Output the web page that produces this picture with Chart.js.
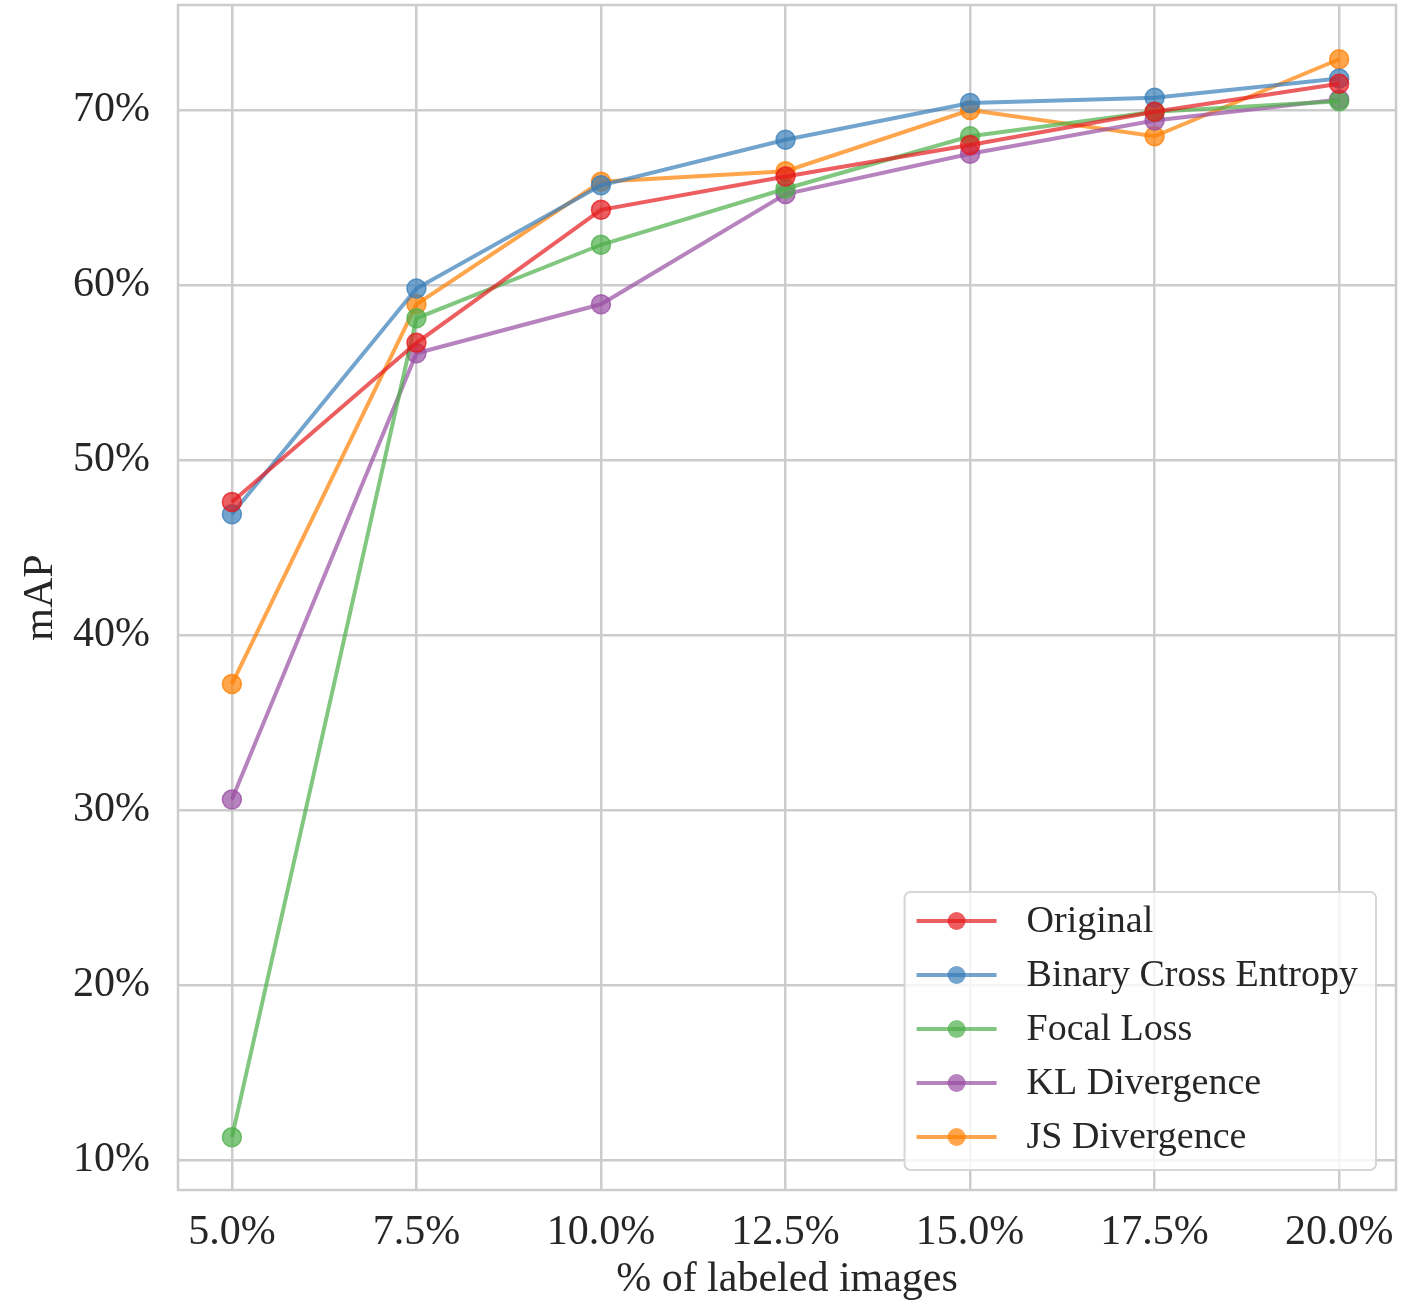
<!DOCTYPE html>
<html>
<head>
<meta charset="utf-8">
<script src="https://cdn.jsdelivr.net/npm/chart.js@4/dist/chart.umd.min.js"></script>
<style>
  html, body { margin: 0; padding: 0; background: #fff; }
  #wrap { width: 1419px; height: 1305px; }
</style>
</head>
<body>
<div id="wrap"><canvas id="myChart" width="1419" height="1305"></canvas></div>
<script>
// porcentaje de imagenes etiquetadas
const etiquetas = [5.0, 7.5, 10.0, 12.5, 15.0, 17.5, 20.0]
const ticksX = [5.0, 7.5, 10.0, 12.5, 15.0, 17.5, 20.0]
const ticksY = [10, 20, 30, 40, 50, 60, 70]

const original = [47.6, 56.7, 64.3, 66.2, 68.0, 69.9, 71.5]
const bce      = [46.9, 59.8, 65.7, 68.3, 70.4, 70.7, 71.8]
const focal    = [11.3, 58.1, 62.3, 65.5, 68.5, 69.9, 70.5]
const kl       = [30.6, 56.1, 58.9, 65.2, 67.5, 69.4, 70.6]
const js       = [37.2, 58.9, 65.9, 66.5, 70.0, 68.5, 72.9]

const nombres = ['Original', 'Binary Cross Entropy', 'Focal Loss', 'KL Divergence', 'JS Divergence']
const colores = ['228,26,28', '55,126,184', '77,175,74', '152,78,163', '255,127,0']

const fuente = "'Liberation Serif', 'Times New Roman', serif"
const texto = '#262626'
const rejilla = '#cccccc'

function serie(i, valores){
    return {
        label: nombres[i],
        data: etiquetas.map((x, k) => ({x: x, y: valores[k]})),
        borderColor: 'rgba(' + colores[i] + ',0.7)',
        backgroundColor: 'rgba(' + colores[i] + ',0.7)',
        pointBackgroundColor: 'rgba(' + colores[i] + ',0.7)',
        pointBorderColor: 'rgba(' + colores[i] + ',0.75)',
        pointBorderWidth: 1.5,
        pointRadius: 9.5,
        borderWidth: 4,
        tension: 0
    }
}

// marco del area del grafico
const marco = {
    id: 'marco',
    beforeDatasetsDraw(chart){
        const {ctx, chartArea: a} = chart
        ctx.save()
        ctx.strokeStyle = rejilla
        ctx.lineWidth = 2.5
        ctx.strokeRect(a.left, a.top, a.right - a.left, a.bottom - a.top)
        ctx.restore()
    }
}

// leyenda dentro del grafico, abajo a la derecha
const leyenda = {
    id: 'leyenda',
    afterDraw(chart){
        const {ctx, chartArea: a} = chart
        const sets = chart.data.datasets
        ctx.save()
        ctx.font = '38px ' + fuente
        let ancho = 0
        sets.forEach(d => { ancho = Math.max(ancho, ctx.measureText(d.label).width) })
        const w = 122 + ancho + 18
        const paso = 54
        const h = paso * sets.length + 8
        const x0 = a.right - 20 - w
        const y0 = a.bottom - 20 - h
        ctx.beginPath()
        ctx.roundRect(x0, y0, w, h, 6)
        ctx.fillStyle = 'rgba(255,255,255,0.8)'
        ctx.fill()
        ctx.strokeStyle = '#d6d6d6'
        ctx.lineWidth = 2
        ctx.stroke()
        sets.forEach((d, i) => {
            const y = y0 + 29 + i * paso
            ctx.strokeStyle = d.borderColor
            ctx.lineWidth = 4
            ctx.beginPath()
            ctx.moveTo(x0 + 12, y)
            ctx.lineTo(x0 + 92, y)
            ctx.stroke()
            ctx.beginPath()
            ctx.arc(x0 + 52, y, 9, 0, Math.PI * 2)
            ctx.fillStyle = d.pointBackgroundColor
            ctx.fill()
            ctx.fillStyle = texto
            ctx.textAlign = 'left'
            ctx.textBaseline = 'middle'
            ctx.fillText(d.label, x0 + 122, y + 1)
        })
        ctx.restore()
    }
}

const ctx = document.getElementById('myChart')
const grafico = new Chart(ctx, {
    type: 'line',
    data: {
        datasets: [serie(0, original), serie(1, bce), serie(2, focal), serie(3, kl), serie(4, js)]
    },
    options: {
        responsive: false,
        animation: false,
        layout: { autoPadding: false, padding: { top: 5, right: 23, left: 0, bottom: 0 } },
        plugins: { legend: { display: false }, tooltip: { enabled: false } },
        scales: {
            x: {
                type: 'linear',
                min: 4.27,
                max: 20.77,
                afterBuildTicks: s => { s.ticks = ticksX.map(v => ({value: v})) },
                afterFit: s => { s.height = 115; s.paddingLeft = 0; s.paddingRight = 0 },
                grid: { color: rejilla, lineWidth: 2.5, drawTicks: false },
                border: { display: false },
                ticks: {
                    padding: 18,
                    color: texto,
                    font: { family: fuente, size: 42 },
                    callback: v => v.toFixed(1) + '%'
                },
                title: {
                    display: true,
                    text: '% of labeled images',
                    color: texto,
                    font: { family: fuente, size: 42 },
                    padding: { top: 0, bottom: 0 }
                }
            },
            y: {
                min: 8.29,
                max: 76,
                afterBuildTicks: s => { s.ticks = ticksY.map(v => ({value: v})) },
                afterFit: s => { s.width = 178; s.paddingTop = 0; s.paddingBottom = 0 },
                grid: { color: rejilla, lineWidth: 2.5, drawTicks: false },
                border: { display: false },
                ticks: {
                    padding: 28,
                    color: texto,
                    font: { family: fuente, size: 42 },
                    callback: v => v + '%'
                },
                title: {
                    display: true,
                    text: 'mAP',
                    color: texto,
                    font: { family: fuente, size: 42 },
                    padding: { top: 16, bottom: 0 }
                }
            }
        }
    },
    plugins: [marco, leyenda]
})
</script>
</body>
</html>
